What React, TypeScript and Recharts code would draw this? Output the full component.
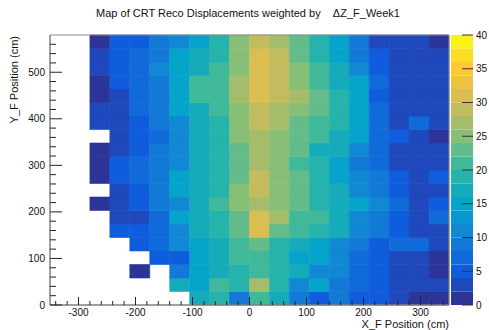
import { Bar, BarChart, Cell, ComposedChart, ReferenceArea, XAxis, YAxis } from 'recharts';

// 2D histogram: X_F bins of 35 cm, Y_F bins of 29 cm, weighted by ΔZ_F
const xBinEdges = [-350, -315, -280, -245, -210, -175, -140, -105, -70, -35, 0, 35, 70, 105, 140, 175, 210, 245, 280, 315, 350];
const yBinEdges = [0, 29, 58, 87, 116, 145, 174, 203, 232, 261, 290, 319, 348, 377, 406, 435, 464, 493, 522, 551, 580];

const n = null;
// one array per Y bin (from the bottom), one value per X bin (from the left)
const row0 = [n, n, n, n, n, n, n, 16, 19, 9, 21, 16, 9, 5, 9, 5, 5, 3, 1, 1];
const row1 = [n, n, n, n, n, n, 16, 14, 21, 19, 26, 19, 10, 14, 9, 7, 5, 3, 3, 3];
const row2 = [n, n, n, n, 1, n, 9, 14, 16, 19, 21, 19, 16, 10, 10, 7, 5, 3, 3, 1];
const row3 = [n, n, n, n, n, 5, 5, 14, 16, 21, 21, 19, 14, 14, 11, 7, 5, 3, 3, 1];
const row4 = [n, n, n, n, 5, 7, 11, 14, 16, 21, 23, 19, 16, 14, 11, 9, 5, 7, 7, 3];
const row5 = [n, n, n, 5, 5, 7, 11, 16, 19, 23, 30, 23, 21, 19, 16, 10, 9, 5, 3, 3];
const row6 = [n, n, n, 3, 3, 7, 14, 16, 19, 23, 30, 27, 21, 21, 16, 10, 9, 5, 3, 7];
const row7 = [n, n, 1, 3, 5, 9, 11, 16, 21, 25, 27, 25, 23, 19, 16, 14, 11, 7, 3, 5];
const row8 = [n, n, n, 3, 5, 9, 14, 16, 19, 25, 29, 25, 23, 19, 16, 10, 9, 5, 3, 3];
const row9 = [n, n, 1, 5, 7, 9, 14, 16, 19, 23, 29, 25, 23, 19, 14, 10, 9, 5, 3, 5];
const row10 = [n, n, 1, 5, 7, 9, 11, 16, 19, 23, 27, 25, 21, 19, 14, 9, 7, 3, 3, 3];
const row11 = [n, n, 1, 3, 5, 9, 11, 16, 19, 23, 27, 25, 23, 16, 16, 11, 7, 3, 3, 3];
const row12 = [n, n, n, 3, 5, 7, 11, 16, 19, 25, 27, 25, 23, 21, 16, 14, 7, 5, 3, 1];
const row13 = [n, n, 3, 3, 5, 9, 11, 16, 19, 25, 29, 27, 23, 21, 19, 14, 7, 3, 7, 3];
const row14 = [n, n, 3, 3, 7, 9, 14, 16, 21, 25, 29, 27, 25, 23, 19, 14, 7, 3, 3, 3];
const row15 = [n, n, 1, 3, 7, 9, 14, 20, 21, 27, 31, 29, 27, 23, 19, 14, 5, 3, 3, 3];
const row16 = [n, n, 1, 5, 7, 9, 14, 20, 21, 27, 31, 29, 25, 21, 16, 14, 7, 3, 3, 3];
const row17 = [n, n, 3, 5, 7, 11, 14, 16, 21, 25, 31, 29, 25, 21, 16, 11, 5, 3, 3, 3];
const row18 = [n, n, 3, 5, 7, 9, 14, 16, 19, 25, 31, 29, 23, 19, 14, 9, 5, 3, 3, 3];
const row19 = [n, n, 1, 5, 5, 9, 10, 14, 19, 25, 29, 27, 23, 19, 14, 9, 3, 3, 3, 1];

const rows = [row0, row1, row2, row3, row4, row5, row6, row7, row8, row9, row10, row11, row12, row13, row14, row15, row16, row17, row18, row19];

const xTicks = [-340, -320, -300, -280, -260, -240, -220, -200, -180, -160, -140, -120, -100, -80, -60, -40, -20, 0, 20, 40, 60, 80, 100, 120, 140, 160, 180, 200, 220, 240, 260, 280, 300, 320, 340];
const yTicks = [0, 20, 40, 60, 80, 100, 120, 140, 160, 180, 200, 220, 240, 260, 280, 300, 320, 340, 360, 380, 400, 420, 440, 460, 480, 500, 520, 540, 560];
const zLevels = [0, 2, 4, 6, 8, 10, 12, 14, 16, 18, 20, 22, 24, 26, 28, 30, 32, 34, 36, 38, 40];
const zTicks = [0, 5, 10, 15, 20, 25, 30, 35, 40];

// ROOT kBird palette
const birdStops = [0, 0.125, 0.25, 0.375, 0.5, 0.625, 0.75, 0.875, 1];
const birdRed = [0.2082, 0.0592, 0.078, 0.0232, 0.1802, 0.5301, 0.8186, 0.9956, 0.9764];
const birdGreen = [0.1664, 0.3599, 0.5041, 0.6419, 0.7178, 0.7492, 0.7328, 0.7862, 0.9832];
const birdBlue = [0.5293, 0.8684, 0.8385, 0.7914, 0.6425, 0.4662, 0.3499, 0.1968, 0.0539];

function birdColor(t: number) {
  let i = 0;
  while (i < birdStops.length - 2 && t > birdStops[i + 1]) i++;
  const f = (t - birdStops[i]) / (birdStops[i + 1] - birdStops[i]);
  const mix = (c: number[]) => Math.round(255 * (c[i] + (c[i + 1] - c[i]) * f));
  return `rgb(${mix(birdRed)},${mix(birdGreen)},${mix(birdBlue)})`;
}

const bandCount = zLevels.length - 1;
function levelColor(v: number) {
  let k = zLevels.findIndex((z, i) => i < bandCount && v >= z && v < zLevels[i + 1]);
  if (k < 0) k = v < 0 ? 0 : bandCount - 1;
  return birdColor((k + 0.5) / bandCount);
}

const cells = rows.flatMap((row, j) =>
  row.flatMap((v, i) =>
    v == null
      ? []
      : [{ x1: xBinEdges[i], x2: xBinEdges[i + 1], y1: yBinEdges[j], y2: yBinEdges[j + 1], v }],
  ),
);

const paletteRow: Record<string, number | string> = { name: 'z' };
zLevels.slice(1).forEach((z, k) => {
  paletteRow[`b${k}`] = z - zLevels[k];
});

const font = '"Liberation Sans", Arial, Helvetica, sans-serif';

function XTick(props: any) {
  const { x, y, payload } = props;
  const major = payload.value % 100 === 0;
  return (
    <g>
      <line x1={x} x2={x} y1={y} y2={y - (major ? 8 : 4)} stroke="#222" strokeWidth={1} />
      {major && (
        <text x={x} y={y + 11} textAnchor="middle" fontSize={10} fontFamily={font} fill="#111">
          {payload.value}
        </text>
      )}
    </g>
  );
}

function YTick(props: any) {
  const { x, y, payload } = props;
  const major = payload.value % 100 === 0;
  return (
    <g>
      <line x1={x} x2={x + (major ? 12 : 6)} y1={y} y2={y} stroke="#222" strokeWidth={1} />
      {major && (
        <text x={x - 5} y={y + 3.5} textAnchor="end" fontSize={10} fontFamily={font} fill="#111">
          {payload.value}
        </text>
      )}
    </g>
  );
}

function ZTick(props: any) {
  const { x, y, payload } = props;
  return (
    <g>
      <line x1={x} x2={x - 11} y1={y} y2={y} stroke="#333" strokeWidth={1} />
      <text x={x + 3} y={y + 3.5} textAnchor="start" fontSize={10} fontFamily={font} fill="#111">
        {payload.value}
      </text>
    </g>
  );
}

export default function App() {
  return (
    <div style={{ position: 'absolute', left: 0, top: 0, width: 489, height: 330, background: '#fff' }}>
      <div style={{ position: 'absolute', left: 0, top: 0 }}>
        <ComposedChart width={489} height={330} margin={{ top: 35, right: 40, bottom: 5, left: 10 }}>
          <XAxis
            type="number"
            dataKey="x"
            domain={[-350, 350]}
            ticks={xTicks}
            interval={0}
            tickSize={0}
            tickMargin={0}
            tick={(p: any) => <XTick {...p} />}
            axisLine={{ stroke: '#7a7a7a' }}
            tickLine={false}
            height={20}
            allowDataOverflow
          />
          <YAxis
            type="number"
            domain={[0, 580]}
            ticks={yTicks}
            interval={0}
            width={40}
            tickSize={0}
            tickMargin={0}
            tick={(p: any) => <YTick {...p} />}
            axisLine={{ stroke: '#7a7a7a' }}
            tickLine={false}
            allowDataOverflow
          />
          {cells.map((c, idx) => (
            <ReferenceArea
              key={idx}
              x1={c.x1}
              x2={c.x2}
              y1={c.y1}
              y2={c.y2}
              fill={levelColor(c.v)}
              fillOpacity={1}
              stroke={levelColor(c.v)}
              strokeWidth={0.6}
              ifOverflow="visible"
            />
          ))}
          <ReferenceArea x1={-350} x2={350} y1={0} y2={580} fill="none" stroke="#8a8a8a" strokeWidth={1} ifOverflow="visible" />
        </ComposedChart>
      </div>
      <div style={{ position: 'absolute', left: 451, top: 0 }}>
        <BarChart
          width={38}
          height={330}
          data={[paletteRow]}
          margin={{ top: 35, right: 0, bottom: 25, left: 0 }}
          barCategoryGap={0}
        >
          <XAxis dataKey="name" hide />
          <YAxis
            orientation="right"
            type="number"
            domain={[0, 40]}
            ticks={zTicks}
            interval={0}
            width={16}
            tickSize={0}
            tickMargin={0}
            tick={(p: any) => <ZTick {...p} />}
            axisLine={false}
            tickLine={false}
            allowDataOverflow
          />
          {zLevels.slice(1).map((_, k) => (
            <Bar key={k} dataKey={`b${k}`} stackId="palette" isAnimationActive={false}>
              <Cell fill={birdColor((k + 0.5) / bandCount)} />
            </Bar>
          ))}
        </BarChart>
      </div>
      <svg width={489} height={330} style={{ position: 'absolute', left: 0, top: 0, pointerEvents: 'none' }}>
        <text x={248} y={17} textAnchor="middle" fontSize={11} fontFamily={font} fill="#111" style={{ whiteSpace: 'pre' }}>
          {'Map of CRT Reco Displacements weighted by    ΔZ_F_Week1'}
        </text>
        <text
          x={18}
          y={36}
          transform="rotate(-90, 18, 36)"
          textAnchor="end"
          fontSize={11}
          fontFamily={font}
          fill="#111"
        >
          Y_F Position (cm)
        </text>
        <text x={449} y={328} textAnchor="end" fontSize={11} fontFamily={font} fill="#111">
          X_F Position (cm)
        </text>
      </svg>
    </div>
  );
}
